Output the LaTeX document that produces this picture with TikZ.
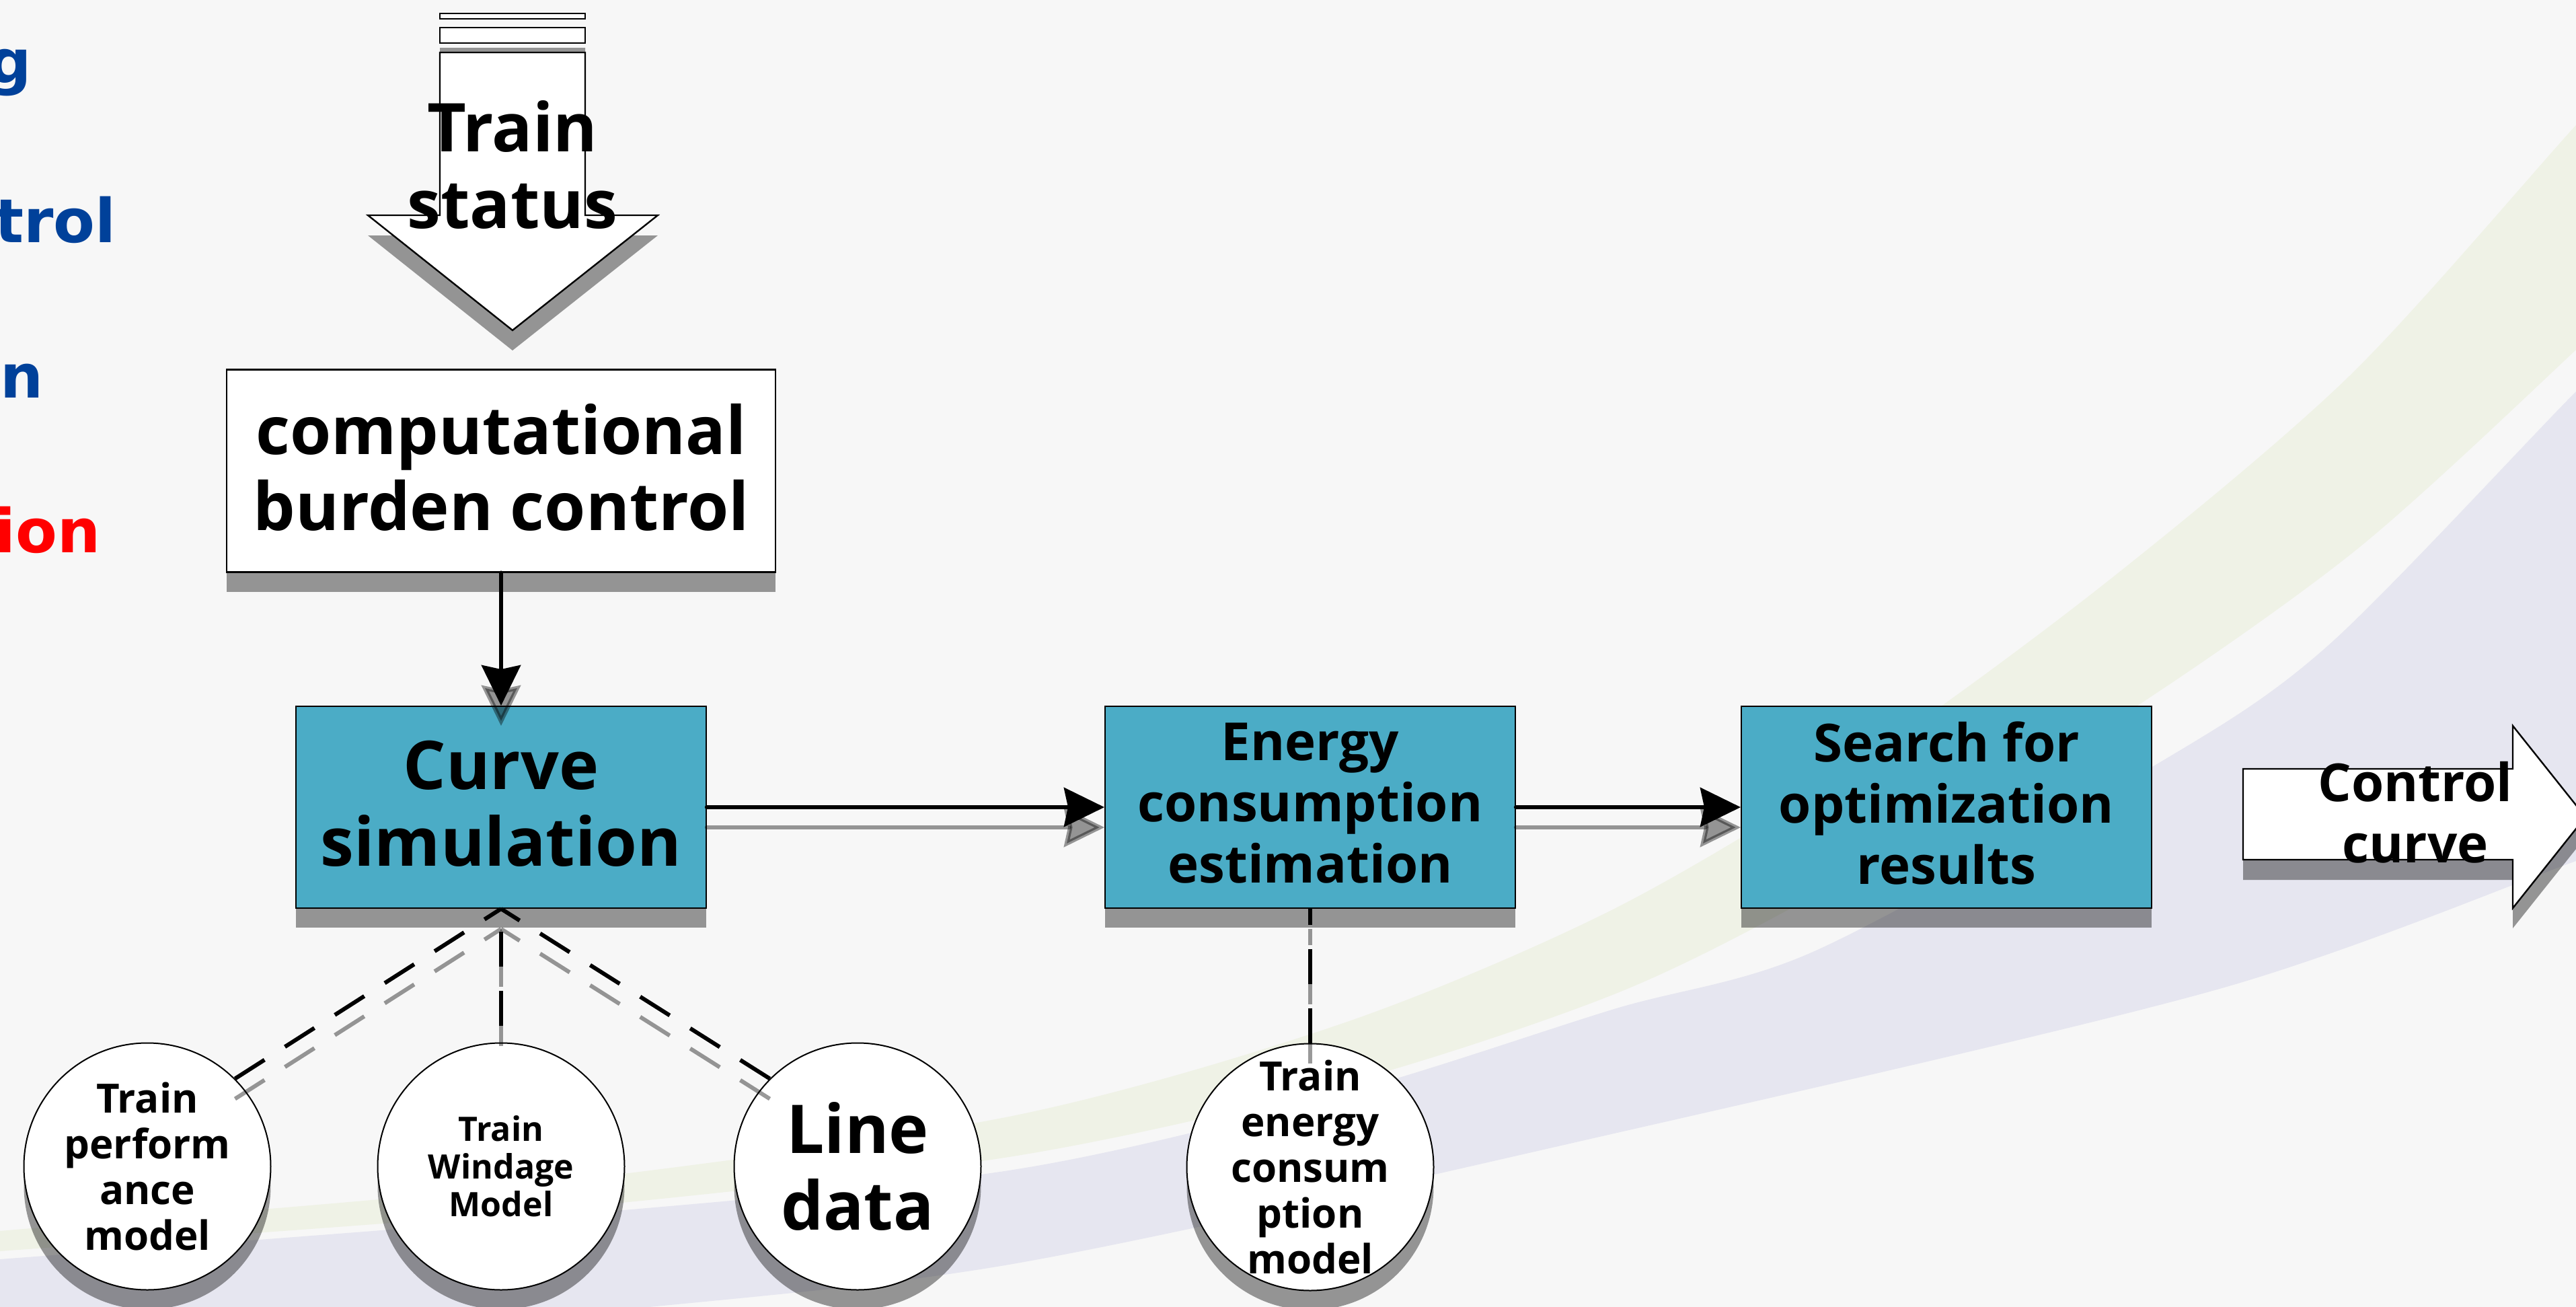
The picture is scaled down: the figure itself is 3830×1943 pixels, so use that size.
\documentclass[tikz,border=0pt]{standalone}
\usepackage{fontspec}
\setmainfont{Open Sans}
\newfontfamily\fragfont{DejaVu Sans}
\usetikzlibrary{arrows.meta,shadows}

\definecolor{bgc}{HTML}{F7F7F7}
\definecolor{bandgreen}{HTML}{EFF2E6}
\definecolor{bandlav}{HTML}{E6E6F0}
\definecolor{boxteal}{HTML}{4BACC6}
\definecolor{fragblue}{HTML}{00419A}
\definecolor{fragred}{HTML}{FF0000}

\newcommand\boldsize[2]{\fontsize{#1}{#2}\selectfont\bfseries}

\begin{document}
\begin{tikzpicture}[x=0.5pt, y=-0.5pt,
  shadowed/.style={drop shadow={shadow xshift=0pt, shadow yshift=-14.5pt, fill=black, opacity=0.4}},
  procbox/.style={shadowed, draw=black, line width=1pt, fill=boxteal, inner sep=0pt,
    minimum width=305pt, minimum height=150pt, align=center, text depth=6pt},
  ctrlbox/.style={shadowed, draw=black, line width=1.1pt, fill=white, inner sep=0pt,
    minimum width=408pt, minimum height=150.5pt, align=center, text depth=6pt,
    font=\boldsize{49.5pt}{56.5pt}},
  modelcircle/.style={shadowed, circle, draw=black, line width=1pt, fill=white, inner sep=0pt,
    minimum size=183.5pt},
  modeltext/.style={align=center, inner sep=0pt},
  flow/.style={line width=3.2pt, line cap=round, -{Stealth[length=30pt,width=29pt,inset=3pt]}},
  link/.style={line width=3pt, dash pattern=on 26pt off 18pt},
  connshadow/.style={draw=black, opacity=0.4, transform canvas={yshift=-15pt}},
  fatarrow/.style={draw=black, line width=1.2pt, fill=white, line join=miter},
  fatshadow/.style={fill=black, fill opacity=0.4},
  frag/.style={anchor=base east, inner sep=0pt, font=\fragfont\boldsize{45pt}{54pt}},
]

% page and background
\fill[bgc] (0,0) rectangle (3830,1943);
\useasboundingbox (0,0) rectangle (3830,1943);

% sweeping background bands
\fill[bandgreen]
  plot[smooth] coordinates {(-100,1840) (0,1830) (800,1760) (1500,1660) (2000,1520) (2400,1351)
    (2765,1134) (3130,867) (3494,558) (3830,186) (3950,60)}
  -- plot[smooth] coordinates {(3950,400) (3830,520) (3500,820) (3130,1080) (2700,1330)
    (2400,1478) (2000,1610) (1500,1720) (800,1800) (0,1860) (-100,1868)}
  -- cycle;
\fill[bandlav]
  plot[smooth] coordinates {(-100,1880) (0,1872) (800,1810) (1500,1740) (2000,1625) (2400,1500)
    (2700,1413) (3200,1140) (3461,960) (3830,582) (3950,470)}
  -- plot[smooth] coordinates {(3950,1240) (3830,1280) (3300,1470) (2400,1685) (1500,1880)
    (800,1960) (0,2050) (-100,2060)}
  -- cycle;

% text running in from the left edge
\node[frag, text=fragblue] (fragA) at (47,123) {g};
\node[frag, text=fragblue] (fragB) at (173,360) {trol};
\node[frag, text=fragblue] (fragC) at (65,591) {n};
\node[frag, text=fragred]  (fragD) at (150,821) {ion};

% input arrow "Train status"
\fill[fatshadow, shift={(0,30)}]
  (654,20) rectangle (870,28) (654,41) rectangle (870,64)
  (654,78) -- (870,78) -- (870,320) -- (978,320) -- (762,491) -- (547,320) -- (654,320) -- cycle;
\draw[fatarrow] (654,20) rectangle (870,28);
\draw[fatarrow] (654,41) rectangle (870,64);
\draw[fatarrow] (654,78) -- (870,78) -- (870,320) -- (978,320) -- (762,491) -- (547,320) -- (654,320) -- cycle;
\node[modeltext, font=\boldsize{50pt}{57pt}] (statuslabel) at (762,245) {Train\\status};

% output arrow "Control curve"
\fill[fatshadow, shift={(0,30)}]
  (3335,1143) -- (3736,1143) -- (3736,1079) -- (3844,1214.5) -- (3736,1350) -- (3736,1278) -- (3335,1278) -- cycle;
\draw[fatarrow]
  (3335,1143) -- (3736,1143) -- (3736,1079) -- (3844,1214.5) -- (3736,1350) -- (3736,1278) -- (3335,1278) -- cycle;
\node[modeltext, font=\boldsize{39pt}{45.5pt}] (curvelabel) at (3591,1208) {Control\\curve};

% process boxes
\node[ctrlbox] (comp) at (745,700) {computational\\burden control};
\node[procbox, font=\boldsize{50pt}{57pt}] (curve) at (745,1200) {Curve\\simulation};
\node[procbox, font=\boldsize{39pt}{45.5pt}] (energy) at (1948,1200) {Energy\\consumption\\estimation};
\node[procbox, font=\boldsize{39pt}{45.5pt}] (search) at (2894,1200) {Search for\\optimization\\results};

% model circles
\node[modelcircle] (c1) at (219,1734) {};
\node[modelcircle] (c2) at (745,1734) {};
\node[modelcircle] (c3) at (1275,1734) {};
\node[modelcircle] (c4) at (1948,1735) {};
\node[modeltext, font=\boldsize{30pt}{34pt}] (c1text) at (c1) {Train\\perform\\ance\\model};
\node[modeltext, font=\boldsize{25pt}{28pt}] (c2text) at (c2) {Train\\Windage\\Model};
\node[modeltext, font=\boldsize{50pt}{57pt}] (c3text) at (c3) {Line\\data};
\node[modeltext, font=\boldsize{30pt}{34pt}] (c4text) at (c4) {Train\\energy\\consum\\ption\\model};

% connector shadows
\draw[flow, connshadow] (comp) -- (curve);
\draw[flow, connshadow] (curve) -- (energy);
\draw[flow, connshadow] (energy) -- (search);
\draw[link, connshadow] (c1.45) -- (curve.south);
\draw[link, connshadow, dash phase=31.5pt] (c2.north) -- (curve.south);
\draw[link, connshadow] (c3.135) -- (curve.south);
\draw[link, connshadow] (c4.north) -- (energy.south);

% connectors
\draw[flow] (comp) -- (curve);
\draw[flow] (curve) -- (energy);
\draw[flow] (energy) -- (search);
\draw[link] (c1.45) -- (curve.south);
\draw[link, dash phase=31.5pt] (c2.north) -- (curve.south);
\draw[link] (c3.135) -- (curve.south);
\draw[link] (c4.north) -- (energy.south);

\end{tikzpicture}
\end{document}
